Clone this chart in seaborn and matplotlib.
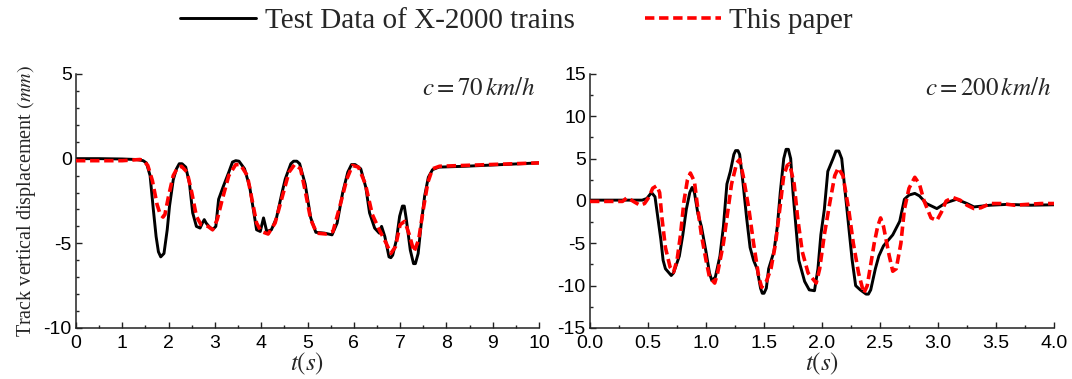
import numpy as np
import pandas as pd
import seaborn as sns
import matplotlib
matplotlib.use("Agg")
import matplotlib.pyplot as plt
from matplotlib.ticker import MultipleLocator, FormatStrFormatter

# ---- data ----
# c = 70 km/h
t70_test = [0, 0.5, 1.0, 1.3, 1.45, 1.52, 1.6, 1.67, 1.73, 1.78, 1.83, 1.9, 1.97, 2.02, 2.1, 2.17,
            2.23, 2.29, 2.37, 2.45, 2.52, 2.6, 2.68, 2.73, 2.77, 2.81, 2.87, 2.95, 3.02, 3.08, 3.18,
            3.3, 3.38, 3.45, 3.52, 3.64, 3.75, 3.83, 3.9, 3.98, 4.05, 4.12, 4.22, 4.33, 4.45, 4.52,
            4.64, 4.7, 4.77, 4.83, 4.95, 5.07, 5.18, 5.37, 5.53, 5.64, 5.76, 5.87, 5.95, 6.03,
            6.15, 6.26, 6.34, 6.45, 6.55, 6.6, 6.67, 6.76, 6.8, 6.84, 6.92, 6.99, 7.05, 7.09,
            7.13, 7.22, 7.29, 7.33, 7.39, 7.45, 7.53, 7.61, 7.7, 7.84, 8.4, 9.2, 10]
test70 = [0, 0, -0.02, -0.05, -0.12, -0.25, -1.0, -3.0, -4.6, -5.5, -5.8, -5.6, -4.2, -2.8, -1.25,
          -0.6, -0.3, -0.3, -0.5, -1.45, -3.2, -4.0, -4.1, -3.8, -3.6, -3.8, -4.0, -4.2, -4.0,
          -2.4, -1.65, -0.8, -0.2, -0.12, -0.15, -0.6, -1.65, -3.0, -4.2, -4.3, -3.5, -4.3, -4.2,
          -3.5, -2.0, -1.2, -0.3, -0.15, -0.15, -0.3, -1.5, -3.5, -4.35, -4.4, -4.5, -3.8, -2.0,
          -0.8, -0.35, -0.35, -0.6, -1.7, -3.2, -4.1, -4.4, -4.0, -4.6, -5.8, -5.85, -5.7, -4.8,
          -3.4, -2.8, -2.8, -3.5, -5.4, -6.2, -6.2, -5.6, -4.0, -2.2, -1.1, -0.65, -0.5, -0.45,
          -0.35, -0.25]

t70_paper = [0, 1.0, 1.38, 1.45, 1.55, 1.65, 1.75, 1.82, 1.88, 1.92, 2.0, 2.1, 2.2, 2.28, 2.4,
             2.5, 2.6, 2.7, 2.85, 2.95, 3.05, 3.15, 3.3, 3.45, 3.55, 3.7, 3.8, 3.9, 4.0, 4.15, 4.3,
             4.45, 4.6, 4.72, 4.85, 4.95, 5.07, 5.2, 5.4, 5.55, 5.7, 5.85, 5.97, 6.1, 6.25, 6.4,
             6.55, 6.7, 6.8, 6.9, 7.0, 7.1, 7.2, 7.3, 7.4, 7.5, 7.6, 7.7, 7.85, 10]
paper70 = [-0.12, -0.12, -0.05, -0.1, -0.4, -1.3, -2.7, -3.3, -3.45, -3.3, -2.2, -1.0, -0.5,
           -0.45, -0.8, -2.0, -3.4, -3.9, -4.0, -4.2, -3.6, -2.5, -1.0, -0.35, -0.35, -1.0, -2.4,
           -3.8, -4.3, -4.45, -3.8, -2.3, -0.8, -0.35, -0.6, -1.9, -3.6, -4.4, -4.45, -4.3, -2.8,
           -1.2, -0.4, -0.5, -1.5, -3.3, -4.2, -5.0, -5.6, -5.2, -3.9, -3.7, -4.5, -5.5, -4.8,
           -3.0, -1.4, -0.6, -0.45, -0.25]

# c = 200 km/h
t200_test = [0, 0.2, 0.45, 0.49, 0.53, 0.56, 0.59, 0.61, 0.63, 0.65, 0.70, 0.72, 0.77, 0.80, 0.83,
             0.86, 0.88, 0.90, 0.93, 0.96, 1.00, 1.03, 1.05, 1.08, 1.12, 1.15, 1.18, 1.21, 1.24,
             1.255, 1.275, 1.29, 1.32, 1.35, 1.38, 1.41, 1.44, 1.47, 1.485, 1.50, 1.52, 1.54,
             1.585, 1.615, 1.64, 1.67, 1.69, 1.71, 1.73, 1.75, 1.775, 1.80, 1.85, 1.89, 1.935,
             1.965, 1.99, 2.02, 2.05, 2.095, 2.12, 2.145, 2.17, 2.20, 2.23, 2.26, 2.29, 2.33,
             2.38, 2.40, 2.42, 2.46, 2.49, 2.53, 2.61, 2.67, 2.71, 2.75, 2.80, 2.84, 2.90, 2.99,
             3.07, 3.16, 3.25, 3.31, 3.45, 3.60, 3.80, 4.00]
test200 = [0.1, 0.1, 0.1, 0.3, 1.0, 0.5, -2.5, -4.5, -7.0, -8.0, -8.8, -8.5, -6.5, -4.0, -1.0, 1.0,
           1.6, 1.0, -1.5, -3.0, -6.0, -8.5, -9.4, -9.0, -6.5, -3.0, 2.0, 3.5, 5.5, 5.95, 5.95,
           5.5, 2.0, -2.0, -5.5, -7.0, -8.0, -10.3, -10.9, -10.9, -10.3, -8.0, -6.0, -3.0, 1.0,
           5.0, 6.1, 6.1, 5.0, 1.0, -3.0, -7.0, -9.5, -10.5, -10.6, -8.0, -4.0, -1.0, 3.5, 5.0,
           5.9, 5.9, 5.0, 1.0, -3.0, -7.0, -10.0, -10.5, -11.0, -11.0, -10.5, -8.0, -6.5, -5.3,
           -4.0, -2.4, 0.2, 0.7, 0.9, 0.6, -0.3, -0.9, -0.2, 0.2, -0.3, -0.7, -0.5, -0.4, -0.5,
           -0.45]

t200_paper = [0, 0.28, 0.32, 0.38, 0.43, 0.47, 0.51, 0.54, 0.575, 0.60, 0.62, 0.65, 0.69, 0.72,
              0.75, 0.78, 0.81, 0.84, 0.865, 0.90, 0.93, 0.96, 1.00, 1.03, 1.075, 1.10, 1.15,
              1.19, 1.22, 1.265, 1.29, 1.32, 1.37, 1.41, 1.455, 1.48, 1.52, 1.56, 1.60, 1.64,
              1.67, 1.70, 1.72, 1.76, 1.79, 1.83, 1.88, 1.95, 1.98, 2.02, 2.07, 2.11, 2.14, 2.18,
              2.23, 2.27, 2.315, 2.36, 2.39, 2.42, 2.45, 2.48, 2.505, 2.53, 2.58, 2.61, 2.64,
              2.68, 2.71, 2.75, 2.80, 2.84, 2.88, 2.94, 2.99, 3.03, 3.07, 3.13, 3.19, 3.25, 3.31,
              3.37, 3.45, 3.54, 3.66, 3.77, 3.89, 4.0]
paper200 = [-0.05, -0.05, 0.4, -0.1, -0.5, -0.3, 0.5, 1.5, 1.8, 1.0, -2.0, -5.5, -7.8, -8.4, -7.0,
            -4.0, 0.0, 2.5, 3.3, 2.3, -1.0, -4.0, -7.0, -9.0, -9.7, -8.5, -5.0, -1.0, 2.0, 4.5,
            4.9, 3.0, -1.0, -5.0, -9.0, -10.2, -9.5, -8.0, -5.0, -0.5, 3.0, 4.2, 4.4, 2.0, -2.0,
            -6.0, -8.5, -9.7, -8.0, -4.0, 0.0, 3.0, 3.9, 3.0, -1.0, -5.0, -8.5, -10.9, -10.0,
            -7.5, -5.0, -3.0, -2.0, -3.0, -6.5, -8.3, -8.0, -5.0, -1.0, 1.5, 2.8, 2.0, 0.0, -2.0,
            -2.3, -1.3, 0.0, 0.4, 0.1, -0.5, -0.9, -0.8, -0.3, -0.3, -0.5, -0.4, -0.3, -0.3]

label_test = "Test Data of X-2000 trains"
label_paper = "This paper"

sns.set_style("ticks")
plt.rcParams["font.family"] = ["Liberation Sans", "DejaVu Sans"]
plt.rcParams["mathtext.fontset"] = "stix"
plt.rcParams["axes.unicode_minus"] = False
serif = ["Liberation Serif", "DejaVu Serif"]
red_dash = (2.6, 1.3)

fig = plt.figure(figsize=(10.72, 3.79), dpi=100)
ax1 = fig.add_axes([0.0709, 0.1346, 0.4319, 0.6702])
ax2 = fig.add_axes([0.5504, 0.1346, 0.4328, 0.6702])

panels = [
    (ax1, t70_test, test70, t70_paper, paper70, (0, 10), (-10, 5), 1, 0.5, 5, 1, r"$c=70\,km/h$"),
    (ax2, t200_test, test200, t200_paper, paper200, (0, 4), (-15, 15), 0.5, 0.25, 5, 2.5,
     r"$c=200\,km/h$"),
]

for ax, tt, yt, tp, yp, xl, yl, xmaj, xmin, ymaj, ymin, note in panels:
    df_t = pd.DataFrame({"t": tt, "u": yt})
    df_p = pd.DataFrame({"t": tp, "u": yp})
    sns.lineplot(data=df_t, x="t", y="u", ax=ax, color="black", lw=2.1,
                 sort=False, estimator=None, label=label_test, zorder=2)
    sns.lineplot(data=df_p, x="t", y="u", ax=ax, color="#ff0000", lw=2.6,
                 sort=False, estimator=None, label=label_paper, zorder=3)
    ax.lines[-1].set_dashes(red_dash)
    ax.set_xlim(*xl)
    ax.set_ylim(*yl)
    ax.xaxis.set_major_locator(MultipleLocator(xmaj))
    ax.xaxis.set_minor_locator(MultipleLocator(xmin))
    ax.yaxis.set_major_locator(MultipleLocator(ymaj))
    ax.yaxis.set_minor_locator(MultipleLocator(ymin))
    ax.tick_params(which="both", direction="in", labelsize=14, width=1.0, colors="#222222",
                   labelcolor="black")
    ax.tick_params(axis="x", pad=5)
    ax.tick_params(axis="y", pad=3)
    ax.tick_params(which="major", length=4.5)
    ax.tick_params(which="minor", length=2.5)
    sns.despine(ax=ax)
    for s in ("left", "bottom"):
        ax.spines[s].set_linewidth(1.1)
        ax.spines[s].set_color("#222222")
    ax.set_xlabel(r"$t(s)$", fontsize=18, labelpad=-1)
    ax.set_ylabel("")
    ax.text(0.993, 0.945, note, transform=ax.transAxes, ha="right", va="center", fontsize=18)
    ax.get_legend().remove()

ax2.xaxis.set_major_formatter(FormatStrFormatter("%.1f"))

ax1.set_ylabel(r"Track vertical displacement $(mm)$", family=serif, fontsize=14.5, labelpad=4)

handles, labels = ax1.get_legend_handles_labels()
handles[1].set_dashes(red_dash)
fig.legend(handles, labels, loc="center", bbox_to_anchor=(0.482, 0.945), ncol=2,
           frameon=False, prop={"family": serif, "size": 21}, handlelength=2.6,
           handletextpad=0.3, columnspacing=2.4)

fig.savefig("out.png", dpi=100)
